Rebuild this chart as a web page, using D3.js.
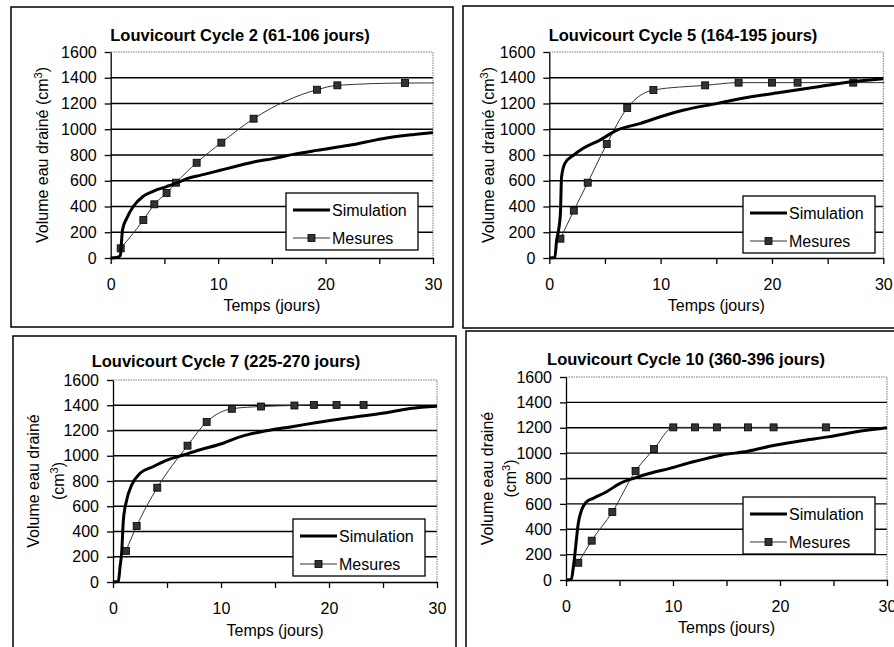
<!DOCTYPE html>
<html lang="fr">
<head>
<meta charset="UTF-8">
<title>Louvicourt - volume eau drainé</title>
<style>
  body { margin: 0; background: #fff; }
  text { font-family: "Liberation Sans", Arial, sans-serif; fill: #000; }
  .axis text { font-size: 16px; fill: #000; }
  .axis path, .axis line { stroke: #000; stroke-width: 1.3px; }
  .title { font-size: 16.5px; font-weight: bold; }
  .lbl { font-size: 16px; }
  .grid { stroke: #000; stroke-width: 1.4px; }
  .border { fill: none; stroke: #777; stroke-width: 1px; stroke-dasharray: 1.5 1; }
  .sim { fill: none; stroke: #000; stroke-width: 3px; }
  .mes { fill: none; stroke: #333; stroke-width: 1px; }
  .mk { fill: #333; stroke: #000; stroke-width: 0.8px; }
</style>
</head>
<body>
<svg id="chart" width="894" height="647"></svg>
<script src="https://cdn.jsdelivr.net/npm/d3@7"></script>
<script>
// ---- values ----
var xTicks = [0, 5, 10, 15, 20, 25, 30];
var yTicks = [0, 200, 400, 600, 800, 1000, 1200, 1400, 1600];
var titles = ['Louvicourt Cycle 2 (61-106 jours)', 'Louvicourt Cycle 5 (164-195 jours)',
              'Louvicourt Cycle 7 (225-270 jours)', 'Louvicourt Cycle 10 (360-396 jours)'];
var seriesNames = ['Simulation', 'Mesures'];

// Cycle 2
var c2SimT = [0, 0.55, 0.9, 1.0, 1.1, 1.5, 2.1, 3.0, 4.0, 5.2, 6.4, 7.1, 8.3, 10.2, 11.4, 13.3, 15.1, 17, 19.2, 22.2, 25.3, 28.1, 30];
var c2SimV = [0, 5, 20, 120, 220, 310, 400, 478, 520, 555, 592, 616, 642, 681, 707, 746, 772, 805, 836, 875, 927, 958, 975];
var c2MesT = [0.93, 3.04, 4.06, 5.2, 6.08, 8.0, 10.3, 13.3, 19.2, 21.1, 27.4, 32];
var c2MesV = [75, 295, 417, 505, 585, 740, 896, 1082, 1307, 1341, 1359, 1360];
// Cycle 5
var c5SimT = [0, 0.5, 0.66, 0.8, 1.0, 1.1, 1.4, 2.2, 3.05, 4.55, 6.0, 8.2, 10.5, 12.0, 15.0, 18.0, 21.0, 24.0, 27.0, 30];
var c5SimV = [0, 5, 140, 200, 350, 630, 735, 800, 852, 916, 990, 1046, 1111, 1147, 1199, 1250, 1289, 1328, 1367, 1393];
var c5MesT = [1.0, 2.2, 3.45, 5.16, 7.0, 9.35, 14.0, 17.0, 20.0, 22.3, 27.3, 32];
var c5MesV = [150, 368, 585, 885, 1165, 1305, 1341, 1362, 1362, 1362, 1362, 1362];
// Cycle 7
var c7SimT = [0, 0.5, 0.65, 0.8, 0.96, 1.27, 1.73, 2.5, 3.7, 5.0, 6.5, 8.0, 10.2, 11.75, 14.2, 16.7, 18.9, 22.0, 25.1, 27.5, 30];
var c7SimV = [0, 5, 120, 230, 490, 650, 768, 861, 913, 966, 1006, 1046, 1099, 1150, 1198, 1232, 1264, 1303, 1338, 1375, 1393];
var c7MesT = [1.2, 2.19, 4.1, 6.9, 8.67, 11.0, 13.7, 16.8, 18.6, 20.7, 23.2];
var c7MesV = [246, 443, 747, 1080, 1268, 1372, 1390, 1398, 1403, 1403, 1403];
// Cycle 10
var c10SimT = [0, 0.5, 0.69, 0.84, 1.0, 1.15, 1.46, 1.93, 2.55, 3.8, 5.05, 6.3, 7.85, 9.7, 11.9, 14.5, 17.0, 19.5, 22.3, 24.5, 27.0, 30];
var c10SimV = [0, 5, 105, 210, 341, 447, 552, 617, 644, 696, 762, 801, 841, 880, 932, 984, 1015, 1062, 1102, 1128, 1167, 1200];
var c10MesT = [1.15, 2.4, 4.33, 6.5, 8.22, 10.03, 12.06, 14.1, 17.0, 19.4, 24.3];
var c10MesV = [136, 310, 536, 859, 1032, 1203, 1203, 1203, 1203, 1203, 1203];

function pts(t, v) { return t.map(function(d, i) { return { t: d, v: v[i] }; }); }

// layout of the four scanned panels
var panels = [
  { title: titles[0], tx: 240, ty: 41, sim: pts(c2SimT, c2SimV), mes: pts(c2MesT, c2MesV),
    frame: [11, 7, 453, 327], plot: [110.7, 52, 433, 258], leg: [286, 193], ylab: [42], axY: 311 },
  { title: titles[1], tx: 683, ty: 41, sim: pts(c5SimT, c5SimV), mes: pts(c5MesT, c5MesV),
    frame: [463, 6, 900, 328], plot: [549.3, 52, 883.3, 258], leg: [743, 196], ylab: [488], axY: 311 },
  { title: titles[2], tx: 226, ty: 367, sim: pts(c7SimT, c7SimV), mes: pts(c7MesT, c7MesV),
    frame: [13, 336, 456, 660], plot: [113, 380, 437, 582], leg: [293, 519], ylab: [33, 58], axY: 636 },
  { title: titles[3], tx: 686, ty: 365, sim: pts(c10SimT, c10SimV), mes: pts(c10MesT, c10MesV),
    frame: [466, 331, 910, 660], plot: [566, 377, 887, 580], leg: [743, 497], ylab: [487, 510], axY: 633 }
];

var svg = d3.select('#chart');

function yTitle(g, x, cy, parts) {
  var t = g.append('text').attr('class', 'lbl').attr('text-anchor', 'middle')
    .attr('transform', 'translate(' + x + ',' + cy + ') rotate(-90)').attr('dy', '0.35em');
  parts(t);
}

panels.forEach(function(p, k) {
  var g = svg.append('g');
  g.append('rect').attr('x', p.frame[0]).attr('y', p.frame[1])
    .attr('width', p.frame[2] - p.frame[0]).attr('height', p.frame[3] - p.frame[1])
    .attr('fill', '#fff').attr('stroke', '#000').attr('stroke-width', 1.5);

  var x = d3.scaleLinear().domain([0, 30]).range([p.plot[0], p.plot[2]]);
  var y = d3.scaleLinear().domain([0, 1600]).range([p.plot[3], p.plot[1]]);

  g.append('clipPath').attr('id', 'clip' + k).append('rect')
    .attr('x', x(0)).attr('y', y(1600) - 6).attr('width', x(30) - x(0) + 1).attr('height', y(0) - y(1600) + 12);

  // gridlines
  g.selectAll('.grid').data(yTicks.filter(function(v) { return v > 0 && v < 1600; }))
    .enter().append('line').attr('class', 'grid')
    .attr('x1', x(0)).attr('x2', x(30)).attr('y1', function(d) { return y(d); }).attr('y2', function(d) { return y(d); });
  // dotted plot-area border, top and right
  g.append('path').attr('class', 'border')
    .attr('d', 'M' + x(0) + ',' + y(1600) + 'H' + x(30) + 'V' + y(0));

  g.append('g').attr('class', 'axis').attr('transform', 'translate(' + x(0) + ',0)')
    .call(d3.axisLeft(y).tickValues(yTicks).tickSize(6).tickSizeOuter(0).tickPadding(8)
      .tickFormat(d3.format('d')));
  g.append('g').attr('class', 'axis').attr('transform', 'translate(0,' + y(0) + ')')
    .call(d3.axisBottom(x).tickValues(xTicks).tickSize(6).tickSizeOuter(0).tickPadding(14.6)
      .tickFormat(function(d) { return d % 10 === 0 ? d : ''; }));
  g.selectAll('.axis').attr('font-family', null);

  // series
  var line = d3.line().x(function(d) { return x(d.t); }).y(function(d) { return y(d.v); })
    .curve(d3.curveMonotoneX);
  var cg = g.append('g').attr('clip-path', 'url(#clip' + k + ')');
  cg.append('path').datum(p.mes).attr('class', 'mes').attr('d', line);
  cg.selectAll('.mk').data(p.mes).enter().append('rect').attr('class', 'mk')
    .attr('x', function(d) { return x(d.t) - 3.5; }).attr('y', function(d) { return y(d.v) - 3.5; })
    .attr('width', 7).attr('height', 7);
  g.append('path').datum(p.sim).attr('class', 'sim').attr('d', line);

  // titles
  g.append('text').attr('class', 'title').attr('x', p.tx).attr('y', p.ty)
    .attr('text-anchor', 'middle').text(p.title);
  g.append('text').attr('class', 'lbl').attr('x', (x(0) + x(30)) / 2).attr('y', p.axY)
    .attr('text-anchor', 'middle').text('Temps (jours)');
  var cy = (y(0) + y(1600)) / 2;
  if (p.ylab.length === 1) {
    yTitle(g, p.ylab[0], cy, function(t) {
      t.append('tspan').text('Volume eau drainé (cm');
      t.append('tspan').attr('font-size', '11px').attr('dy', -6).text('3');
      t.append('tspan').attr('dy', 6).text(')');
    });
  } else {
    yTitle(g, p.ylab[0], cy, function(t) { t.text('Volume eau drainé'); });
    yTitle(g, p.ylab[1], cy, function(t) {
      t.append('tspan').text('(cm');
      t.append('tspan').attr('font-size', '11px').attr('dy', -6).text('3');
      t.append('tspan').attr('dy', 6).text(')');
    });
  }

  // legend
  var lx = p.leg[0], ly = p.leg[1];
  var lg = g.append('g').attr('transform', 'translate(' + lx + ',' + ly + ')');
  lg.append('rect').attr('width', 132).attr('height', 57).attr('fill', '#fff')
    .attr('stroke', '#000').attr('stroke-width', 1.3);
  lg.append('line').attr('class', 'sim').attr('x1', 7).attr('x2', 44).attr('y1', 17).attr('y2', 17);
  lg.append('line').attr('class', 'mes').attr('x1', 7).attr('x2', 44).attr('y1', 45).attr('y2', 45);
  lg.append('rect').attr('class', 'mk').attr('x', 22).attr('y', 41.5).attr('width', 7).attr('height', 7);
  lg.selectAll('.lt').data(seriesNames).enter().append('text').attr('class', 'lbl')
    .attr('x', 46).attr('y', function(d, i) { return 23 + i * 28; }).text(function(d) { return d; });
});
</script>
</body>
</html>
